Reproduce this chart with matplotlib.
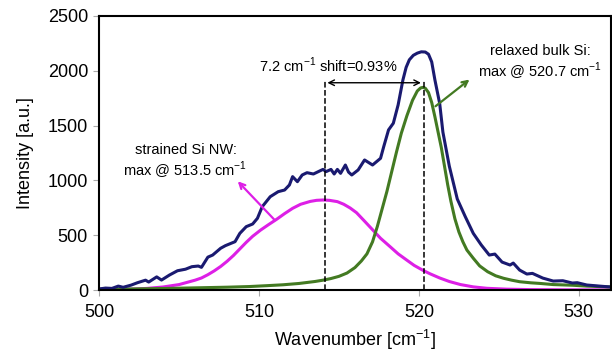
import matplotlib
matplotlib.use("Agg")
import matplotlib.pyplot as plt

plt.rcParams['font.family'] = ['Liberation Sans', 'DejaVu Sans']
plt.rcParams['mathtext.fontset'] = 'custom'
plt.rcParams['mathtext.rm'] = 'Liberation Sans'

# measured spectrum (navy)
meas_x = [500.0, 500.4, 500.8, 501.2, 501.5, 502.0, 502.4, 502.9, 503.1, 503.6,
          503.9, 504.4, 504.9, 505.4, 505.8, 506.2, 506.4, 506.8, 507.1, 507.6,
          507.9, 508.5, 508.8, 509.2, 509.6, 509.9, 510.2, 510.7, 511.2, 511.6,
          511.9, 512.1, 512.4, 512.7, 513.0, 513.4, 514.0, 514.2, 514.5, 514.7,
          514.9, 515.1, 515.4, 515.6, 515.8, 516.2, 516.6, 517.1, 517.6, 517.8,
          518.1, 518.4, 518.7, 519.0, 519.2, 519.4, 519.65, 519.9, 520.15, 520.4,
          520.6, 520.8, 521.0, 521.3, 521.5, 521.9, 522.4, 522.9, 523.4, 523.9,
          524.4, 524.75, 525.2, 525.7, 525.9, 526.3, 526.75, 527.1, 527.75, 528.4,
          529.0, 529.6, 529.9, 530.5, 531.3, 531.8, 532.0]
meas_y = [10, 18, 15, 36, 25, 45, 67, 90, 73, 120,
          91, 137, 176, 190, 213, 219, 207, 300, 319, 381,
          405, 441, 517, 578, 602, 654, 760, 851, 897, 912,
          958, 1034, 988, 1049, 1070, 1058, 1100, 1080, 1100, 1058,
          1100, 1064, 1140, 1075, 1049, 1095, 1186, 1140, 1201, 1308,
          1460, 1521, 1688, 1916, 2030, 2099, 2140, 2160, 2172, 2170,
          2150, 2080, 1916, 1700, 1440, 1130, 830, 669, 517, 411,
          319, 328, 255, 228, 246, 182, 146, 152, 109, 82,
          85, 64, 67, 46, 36, 30, 28]

# strained Si NW component (magenta)
nw_x = [500.0, 501.0, 502.0, 503.0, 504.0, 505.0, 506.0, 506.4, 506.8, 507.2,
        507.6, 508.0, 508.4, 508.8, 509.2, 509.6, 510.1, 510.6, 511.1, 511.6,
        512.1, 512.6, 513.2, 513.6, 514.0, 514.4, 514.9, 515.3, 515.7, 516.1,
        516.6, 517.1, 517.6, 518.2, 518.7, 519.25, 519.7, 520.25, 520.7, 521.3,
        521.9, 522.6, 523.4, 524.25, 525.5, 527.0, 529.0, 532.0]
nw_y = [3, 5, 8, 15, 28, 50, 90, 110, 140, 175,
        215, 262, 315, 375, 435, 490, 547, 597, 645, 697,
        745, 782, 808, 818, 821, 818, 806, 782, 748, 705,
        628, 550, 472, 395, 330, 272, 225, 180, 148, 110,
        78, 50, 29, 16, 8, 4, 2, 1]

# relaxed bulk Si component (green)
bulk_x = [500.0, 502.0, 504.0, 506.0, 508.0, 509.4, 510.5, 511.5, 512.5, 513.5,
          514.0, 514.5, 515.0, 515.5, 516.0, 516.4, 516.75, 517.1, 517.4, 517.7,
          518.0, 518.3, 518.6, 518.9, 519.25, 519.6, 519.9, 520.1, 520.25, 520.4,
          520.6, 520.8, 521.0, 521.2, 521.4, 521.6, 521.8, 522.0, 522.25, 522.5,
          522.75, 523.0, 523.4, 523.8, 524.3, 524.8, 525.3, 525.8, 526.3, 527.0,
          527.6, 528.4, 529.6, 530.5, 532.0]
bulk_y = [8, 10, 14, 20, 26, 32, 40, 48, 60, 78,
          90, 105, 125, 155, 205, 265, 330, 440, 580, 740,
          900, 1080, 1260, 1430, 1590, 1730, 1815, 1842, 1848, 1840,
          1800, 1710, 1580, 1440, 1300, 1130, 960, 810, 650, 530,
          440, 365, 290, 220, 167, 130, 107, 90, 76, 66,
          60, 50, 44, 36, 28]

fig = plt.figure(figsize=(6.12, 3.52), dpi=100)
ax = fig.add_axes([0.162, 0.176, 0.836, 0.779])

ax.plot(nw_x, nw_y, color='#dd1fe6', lw=2.2)
ax.plot(bulk_x, bulk_y, color='#437a22', lw=2.2)
ax.plot(meas_x, meas_y, color='#1a1a70', lw=2.2)

# peak markers
ax.plot([514.1, 514.1], [0, 1916], color='black', ls='--', lw=1.1)
ax.plot([520.3, 520.3], [0, 1916], color='black', ls='--', lw=1.1)
ax.annotate('', xy=(520.3, 1890), xytext=(514.1, 1890),
            arrowprops=dict(arrowstyle='<->', color='black', lw=1.0))
ax.text(514.3, 2045, r'7.2 cm$^{\mathregular{-1}}$ shift=0.93%',
        ha='center', va='center', fontsize=10.5)

ax.annotate('', xy=(508.55, 1010), xytext=(511.1, 620),
            arrowprops=dict(arrowstyle='->', color='#dd1fe6', lw=1.6))
ax.text(505.4, 1170, 'strained Si NW:\nmax @ 513.5 cm$^{\\mathregular{-1}}$',
        ha='center', va='center', fontsize=10.5, linespacing=1.15)

ax.annotate('', xy=(523.3, 1935), xytext=(520.9, 1660),
            arrowprops=dict(arrowstyle='->', color='#437a22', lw=1.6))
ax.text(527.6, 2070, 'relaxed bulk Si:\nmax @ 520.7 cm$^{\\mathregular{-1}}$',
        ha='center', va='center', fontsize=10.5, linespacing=1.15)

ax.set_xlim(500, 532)
ax.set_ylim(0, 2500)
ax.set_xticks([500, 510, 520, 530])
ax.set_yticks([0, 500, 1000, 1500, 2000, 2500])
ax.tick_params(axis='x', direction='out', length=4, color='#aaaaaa', labelsize=13, pad=6)
ax.tick_params(axis='y', direction='out', length=4, color='#aaaaaa', labelsize=13, pad=4)
for s in ax.spines.values():
    s.set_linewidth(1.5)
ax.set_xlabel(r'Wavenumber [cm$^{\mathregular{-1}}$]', fontsize=13, labelpad=5)
ax.set_ylabel('Intensity [a.u.]', fontsize=13, labelpad=10)

fig.savefig('out.png', dpi=100)
